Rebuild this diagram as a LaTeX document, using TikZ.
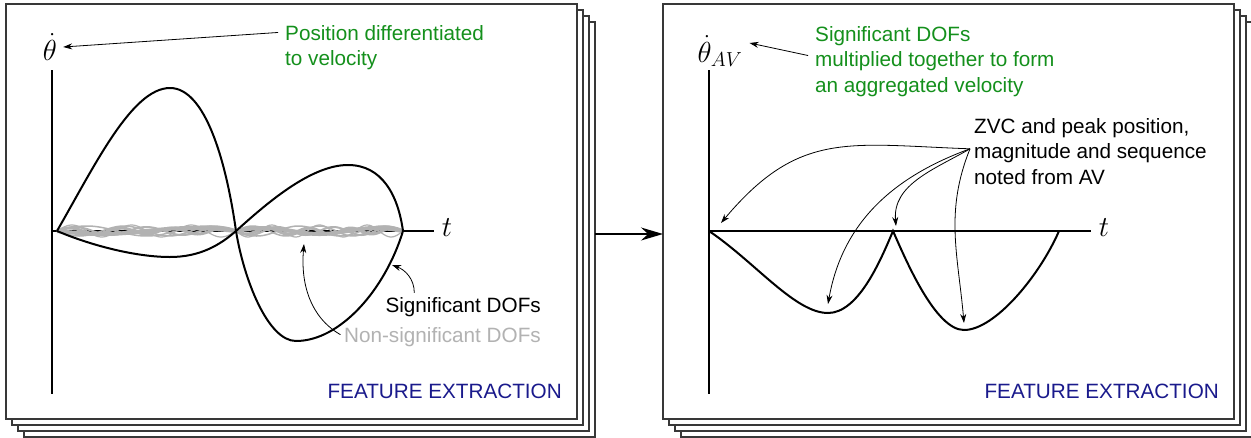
\RequirePackage{fix-cm}
\documentclass[tikz,border=0pt]{standalone}
\usepackage{fontspec}
\setmainfont{Liberation Sans}
\usetikzlibrary{arrows.meta,positioning}
\definecolor{fgreen}{HTML}{14901C}
\definecolor{fnavy}{HTML}{1A1A8C}
\definecolor{fgray}{HTML}{B2B2B2}
\definecolor{fedge}{HTML}{383838}

\tikzset{
 sheet/.style={fill=white,draw=fedge,line width=1.2pt},
 axisline/.style={line width=2.2pt},
 curve/.style={line width=2pt},
 wiggle/.style={fgray},
 note/.style={inner sep=0pt,align=left,font=\fontsize{20.7}{25.5}\selectfont},
 axlabel/.style={inner sep=2pt,font=\fontsize{29}{34}\selectfont},
 pointer/.style={-{Stealth[length=9pt,width=6pt]},line width=0.8pt},
 passarrow/.style={-{Stealth[length=22pt,width=13pt]},line width=1.3pt}
}

\begin{document}
\begin{tikzpicture}[x=1pt,y=-1pt]
 \useasboundingbox (0,0) rectangle (1251,437);
 \clip (0,0) rectangle (1251,437);
 % two stacks of sheets with their axes
 \foreach \px/\nm in {6/L,663/R}{
  \foreach \k in {3,2,1,0}
   \filldraw[sheet] (\px+\k*6,4+\k*6) rectangle ++(571,415);
  \coordinate (out\nm) at (\px+589,234);
  \coordinate (in\nm) at (\px,234);
  \draw[axisline] (\px+46,70) -- (\px+46,394);
  \draw[axisline] (\px+46,231) -- (\px+428,231);
  \node[axlabel] (t\nm) at (\px+441,228) {$t$};
  \node[note,fnavy,anchor=base east] (fe\nm) at (\px+556,398) {FEATURE EXTRACTION};
 }
 \draw[passarrow] (outL) -- (inR);

 % left: joint velocities
 \node[axlabel] (thL) at (50,47) {$\dot{\theta}$};
 \foreach \a/\f/\w in {5/3/1.5,-5/4/1.5,4/5/2,-3/2/4,6/6/1.2,3/7/3}{
  \draw[wiggle,line width=\w pt] plot[domain=57:236,samples=90,smooth] (\x,{231-(\a)*sin(\f*180*((\x-57)/179))});
  \draw[wiggle,line width=\w pt] plot[domain=236:403,samples=90,smooth] (\x,{231+(\a)*sin((\f+1)*180*((\x-236)/167))});
 }
 \draw[curve] (57,231) .. controls (95,165) and (132,88) .. (170,88)
  .. controls (205,88) and (226,160) .. (236,231)
  .. controls (244,280) and (268,341) .. (296,341)
  .. controls (340,341) and (385,290) .. (403,231);
 \draw[curve] (57,231) .. controls (90,245) and (135,257) .. (170,257)
  .. controls (200,257) and (220,245) .. (236,231)
  .. controls (265,205) and (310,165) .. (348,165)
  .. controls (382,165) and (398,195) .. (403,231);
 \node[note,fgreen,anchor=north west] (posL) at (285,25) {Position differentiated\\to velocity};
 \node[note,anchor=base east] (sig) at (541,312) {Significant DOFs};
 \node[note,fgray,anchor=base east] (nsig) at (541,342) {Non-significant DOFs};
 \coordinate (sigtip) at (392,265);
 \coordinate (nsigtip) at (304,244);
 \draw[pointer,shorten <=7pt] (posL.west |- 0,32) -- ([xshift=4pt]thL.east);
 \draw[pointer] ([xshift=29pt,yshift=4pt]sig.north west) to[out=90,in=-20] (sigtip);
 \draw[pointer,shorten <=4pt] (nsig.west) to[out=150,in=-95] (nsigtip);

 % right: aggregated velocity
 \node[axlabel] (thR) at (720,51) {$\dot{\theta}_{AV}$};
 \draw[curve] (709,231) .. controls (755,262) and (795,313) .. (828,313)
  .. controls (858,313) and (880,262) .. (893,231)
  .. controls (905,258) and (935,330) .. (964,330)
  .. controls (995,330) and (1040,275) .. (1059,231);
 \node[note,fgreen,anchor=north west] (aggR) at (815,26) {Significant DOFs\\multiplied together to form\\an aggregated velocity};
 \node[note,anchor=north west] (zvc) at (974,118) {ZVC and peak position,\\magnitude and sequence\\noted from AV};
 \draw[pointer,shorten <=7pt] (aggR.west |- 0,57) -- ([shift={(5pt,8pt)}]thR.east);
 \coordinate (zvcsrc) at ([shift={(-4pt,2.5pt)}]zvc.west);
 \coordinate (zvcA) at (721,223);
 \coordinate (zvcB) at (828,304);
 \coordinate (zvcC) at (896,226);
 \coordinate (zvcD) at (964,323);
 \draw[pointer] (zvcsrc) to[out=178,in=50,looseness=1.2] (zvcA);
 \draw[pointer] (zvcsrc) to[out=200,in=80] (zvcB);
 \draw[pointer] (zvcsrc) to[out=210,in=95] (zvcC);
 \draw[pointer] (zvcsrc) to[out=248,in=95] (zvcD);
\end{tikzpicture}
\end{document}
